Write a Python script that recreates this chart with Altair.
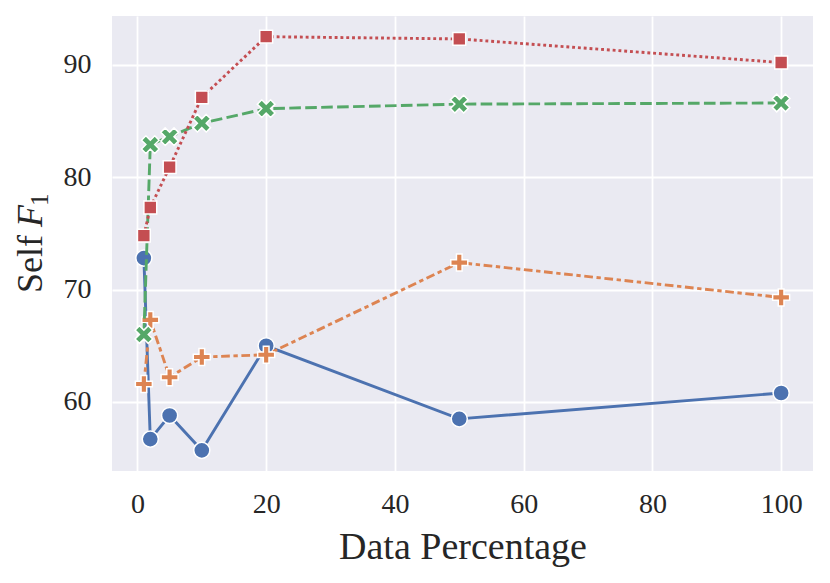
import altair as alt
import pandas as pd

# ---- data ----
pct = [1, 2, 5, 10, 20, 50, 100]
series_names = ["A", "B", "C", "D"]
blue = [72.8, 56.7, 58.8, 55.7, 65.0, 58.5, 60.8]
orange = [61.6, 67.3, 62.2, 64.0, 64.2, 72.4, 69.3]
green = [66.0, 82.9, 83.6, 84.8, 86.1, 86.5, 86.6]
red = [74.8, 77.3, 80.9, 87.1, 92.5, 92.3, 90.2]
x_ticks = [0, 20, 40, 60, 80, 100]
y_ticks = [60, 70, 80, 90]

values = [blue, orange, green, red]
rows = []
for name, vals in zip(series_names, values):
    for p, v in zip(pct, vals):
        rows.append({"series": name, "pct": p, "f1": v})
df = pd.DataFrame(rows)

FONT = "Liberation Serif"
TXT = "#262626"

colors = ["#4C72B0", "#DD8452", "#55A868", "#C44E52"]
LW = 2.9
dashes = [None, [8.7, 3.6, 4.35, 3.6], [11.6, 4.35], [2.9, 2.9]]
PLUS = "M-0.333,-1H0.333V-0.333H1V0.333H0.333V1H-0.333V0.333H-1V-0.333H-0.333Z"
XSHAPE = ("M0.471,-0.943L0.943,-0.471L0.471,0L0.943,0.471L0.471,0.943L0,0.471"
          "L-0.471,0.943L-0.943,0.471L-0.471,0L-0.943,-0.471L-0.471,-0.943L0,-0.471Z")
shapes = ["circle", PLUS, XSHAPE, "square"]
sizes = [260, 290, 350, 165]

xs = alt.Scale(domain=[-3.95, 104.95], nice=False, zero=False)
ys = alt.Scale(domain=[53.86, 94.34], nice=False, zero=False)

x_enc = alt.X("pct:Q", scale=xs, title="Data Percentage",
              axis=alt.Axis(values=x_ticks, format="d"))
y_enc = alt.Y("f1:Q", scale=ys, title=None,
              axis=alt.Axis(values=y_ticks, format="d"))

layers = []
for i, name in enumerate(series_names):
    base = alt.Chart(df).transform_filter(alt.datum.series == name)
    line_kw = dict(color=colors[i], strokeWidth=LW, clip=True)
    if dashes[i] is not None:
        line_kw["strokeDash"] = dashes[i]
    line = base.mark_line(**line_kw).encode(x=x_enc, y=y_enc, order="pct:Q")
    pts = base.mark_point(shape=shapes[i], size=sizes[i], filled=True,
                          fill=colors[i], stroke="white", strokeWidth=1.5,
                          opacity=1, fillOpacity=1, clip=True).encode(x=x_enc, y=y_enc)
    layers += [line, pts]

# y-axis title "Self F_1" built from text pieces
lab = pd.DataFrame({"t": ["Self"]})
t_self = alt.Chart(lab).mark_text(font=FONT, fontSize=36, angle=270, align="left",
                                  baseline="alphabetic", color=TXT).encode(
    x=alt.value(-70), y=alt.value(277), text=alt.value("Self"))
t_f = alt.Chart(lab).mark_text(font=FONT, fontSize=36, angle=270, align="left",
                               baseline="alphabetic", fontStyle="italic", color=TXT).encode(
    x=alt.value(-70), y=alt.value(211), text=alt.value("F"))
t_1 = alt.Chart(lab).mark_text(font=FONT, fontSize=25, angle=270, align="left",
                               baseline="alphabetic", color=TXT).encode(
    x=alt.value(-64), y=alt.value(190), text=alt.value("1"))

chart = alt.layer(*layers, t_self, t_f, t_1).properties(
    width=701, height=455,
    autosize="none",
    padding={"left": 104, "top": 8, "right": 5, "bottom": 100},
).configure_view(
    fill="#EAEAF2", stroke=None
).configure_axis(
    grid=True, gridColor="white", gridWidth=1.8, domain=False, ticks=False,
    labelFont=FONT, labelFontSize=28, labelColor=TXT,
    titleFont=FONT, titleFontSize=38, titleColor=TXT, titleFontWeight="normal",
).configure_axisX(
    labelPadding=19, titlePadding=10
).configure_axisY(
    labelPadding=21
)

chart.save("out.html", embed_options={"renderer": "svg", "actions": False})
